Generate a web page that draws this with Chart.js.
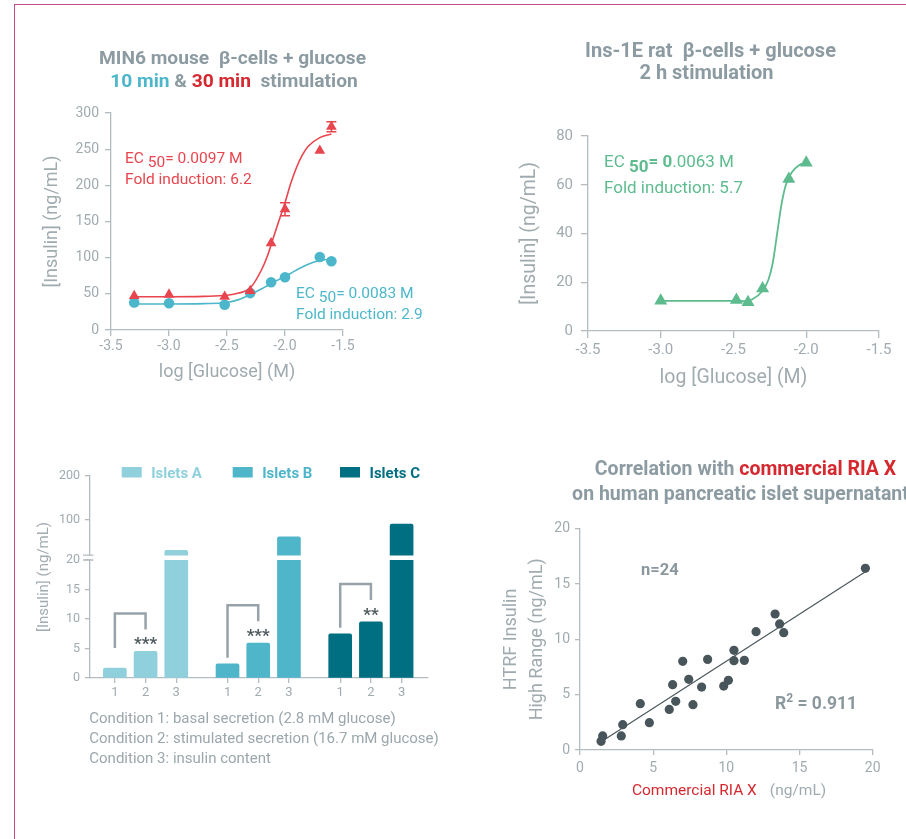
<!DOCTYPE html>
<html>
<head>
<meta charset="utf-8">
<title>Insulin assay panels</title>
<script src="https://cdn.jsdelivr.net/npm/chart.js@4.4.1/dist/chart.umd.min.js"></script>
<style>
  html, body { margin: 0; padding: 0; background: #ffffff; }
  #page { position: relative; width: 906px; height: 839px; overflow: hidden; background: #ffffff; }
  #frame { position: absolute; left: 14px; top: 4px; width: 1000px; height: 1000px;
           border-left: 1.5px solid #c44a8f; border-top: 1.5px solid #c44a8f; }
  canvas { position: absolute; left: 0; top: 0; }
</style>
</head>
<body>
<div id="page">
  <div id="frame"></div>
  <canvas id="minChart" width="906" height="839"></canvas>
  <canvas id="insChart" width="906" height="839"></canvas>
  <canvas id="isletChart" width="906" height="839"></canvas>
  <canvas id="corrChart" width="906" height="839"></canvas>
</div>
<script>
// ---------- MIN6 mouse beta-cells, 10 min and 30 min glucose stimulation ----------
const glucoseLogMIN6 = [-3.3, -3.0, -2.52, -2.3, -2.12, -2.0, -1.7, -1.6];
const insulin10min   = [38, 37, 35, 51, 66, 73, 101, 95];
const insulin30min   = [47, 49, 46, 54, 120, 167, 248, 281];
const sd30min        = [null, null, null, null, null, 9, null, 7];
const fitGlucoseMIN6 = [-3.3, -3.0, -2.7, -2.5, -2.4, -2.3, -2.2, -2.15, -2.1, -2.05, -2.0, -1.95, -1.9, -1.85, -1.8, -1.7, -1.6];
const fit30min       = [46, 46, 46.5, 48, 51, 58, 84, 103, 128, 152, 176, 203, 225, 242, 254, 266, 271];
const fit10min       = [36, 36, 36.5, 38, 42, 49, 57, 61.5, 66, 70, 74, 78.5, 83, 87, 91, 96, 98];
const glucoseTicks   = [-3.5, -3.0, -2.5, -2.0, -1.5];
const insulinTicksMIN6 = [0, 50, 100, 150, 200, 250, 300];

// ---------- Ins-1E rat beta-cells, 2 h glucose stimulation ----------
const glucoseLogINS1E = [-3.0, -2.48, -2.4, -2.3, -2.12, -2.0];
const insulin2h       = [12.4, 12.7, 11.8, 17.4, 62.4, 69];
const fitGlucoseINS1E = [-3.0, -2.6, -2.48, -2.42, -2.37, -2.3, -2.26, -2.23, -2.2, -2.17, -2.14, -2.1, -2.05, -2.0];
const fit2h           = [12.4, 12.4, 12.4, 12.2, 13, 16.5, 21, 28, 40, 52, 60, 65, 68, 69];
const insulinTicksINS1E = [0, 20, 40, 60, 80];

// ---------- Human islets, three secretion conditions ----------
const islets          = ['Islets A', 'Islets B', 'Islets C'];
const conditions      = ['1', '2', '3'];
const insulinIsletsA  = [1.7, 4.5, 31];
const insulinIsletsB  = [2.4, 5.9, 62];
const insulinIsletsC  = [7.5, 9.5, 91];
const significance    = ['***', '***', '**'];
const lowerTicks      = [0, 5, 10, 15, 20];
const upperTicks      = [100, 200];
const conditionNotes  = [
  'Condition 1: basal secretion (2.8 mM glucose)',
  'Condition 2: stimulated secretion (16.7 mM glucose)',
  'Condition 3: insulin content'
];

// ---------- HTRF vs commercial RIA correlation ----------
const riaX  = [1.44, 1.55, 2.82, 2.92, 4.12, 4.74, 6.10, 6.33, 6.54, 7.02, 7.43, 7.72,
               8.31, 8.72, 9.82, 10.14, 10.52, 10.52, 11.23, 12.03, 13.33, 13.64, 13.92, 19.50];
const htrfY = [0.78, 1.27, 1.27, 2.29, 4.19, 2.47, 3.67, 5.90, 4.40, 8.01, 6.39, 4.10,
               5.69, 8.19, 5.78, 6.30, 9.01, 8.07, 8.10, 10.69, 12.29, 11.39, 10.60, 16.42];
const fitRiaX  = [1.5, 19.5];
const fitHtrfY = [0.8, 16.1];
const corrTicks = [0, 5, 10, 15, 20];

// ---------- shared styling ----------
const FONT = "Roboto, 'Liberation Sans', 'DejaVu Sans', sans-serif";
const AXIS = '#b3bdc1';
const TICK_TEXT = '#a0abb0';
const TITLE_GRAY = '#8c9ba2';
const RED = '#e8454e';
const RED_TITLE = '#d5282f';
const BLUE = '#4cb7ca';
const GREEN = '#5ebb8e';
const ISLET_COLORS = ['#8fd0dc', '#4fb5c9', '#006f82'];

Chart.defaults.font.family = FONT;
Chart.defaults.color = TICK_TEXT;

const f = (size, weight) => `${weight || 'normal'} ${size}px ${FONT}`;
const pts = (xs, ys) => xs.map((x, i) => ({ x: x, y: ys[i] }));
const fixTicks = values => scale => { scale.ticks = values.map(v => ({ value: v })); };
const fixSize = size => scale => { if (scale.isHorizontal()) scale.height = size; else scale.width = size; };

function drawRuns(ctx, x, y, runs, align) {
  ctx.save();
  ctx.textBaseline = 'alphabetic';
  ctx.textAlign = 'left';
  let total = 0;
  runs.forEach(r => { ctx.font = r.font; r.w = ctx.measureText(r.text).width; total += r.w + (r.gap || 0); });
  let cx = align === 'center' ? x - total / 2 : x;
  runs.forEach(r => {
    cx += (r.gap || 0);
    ctx.font = r.font; ctx.fillStyle = r.color;
    ctx.fillText(r.text, cx, y + (r.dy || 0));
    cx += r.w;
  });
  ctx.restore();
}

function axisStyle(tickLen, fontSize, pad) {
  return {
    grid: { drawOnChartArea: false, tickLength: tickLen, color: AXIS, lineWidth: 1.3, offset: false },
    border: { color: AXIS, width: 1.3 },
    ticks: { font: { size: fontSize }, color: TICK_TEXT, padding: pad, autoSkip: false, maxRotation: 0 }
  };
}

const baseOptions = padding => ({
  responsive: false, animation: false, devicePixelRatio: 1,
  layout: { padding: padding },
  plugins: { legend: { display: false }, tooltip: { enabled: false } },
  events: []
});

// ===== Panel 1: MIN6 =====
const minText = {
  id: 'minText',
  beforeDatasetsDraw(chart) {
    const { ctx, scales: { x, y } } = chart;
    ctx.save();
    ctx.strokeStyle = RED; ctx.lineWidth = 1.5;
    sd30min.forEach((sd, i) => {
      if (sd == null) return;
      const px = x.getPixelForValue(glucoseLogMIN6[i]);
      const top = y.getPixelForValue(insulin30min[i] + sd);
      const bot = y.getPixelForValue(insulin30min[i] - sd);
      ctx.beginPath();
      ctx.moveTo(px, top); ctx.lineTo(px, bot);
      ctx.moveTo(px - 5, top); ctx.lineTo(px + 5, top);
      ctx.moveTo(px - 5, bot); ctx.lineTo(px + 5, bot);
      ctx.stroke();
    });
    ctx.restore();
  },
  afterDraw(chart) {
    const ctx = chart.ctx;
    drawRuns(ctx, 232.5, 63.5, [{ text: 'MIN6 mouse  β-cells + glucose', color: TITLE_GRAY, font: f(19.2, 'bold') }], 'center');
    drawRuns(ctx, 234, 87, [
      { text: '10 min', color: BLUE, font: f(19.2, 'bold') },
      { text: ' & ', color: TITLE_GRAY, font: f(19.2, 'bold') },
      { text: '30 min', color: RED_TITLE, font: f(19.2, 'bold') },
      { text: '  stimulation', color: TITLE_GRAY, font: f(19.2, 'bold') }
    ], 'center');
    const ec = (x, y, color, ecText, fold) => {
      drawRuns(ctx, x, y, [
        { text: 'EC ', color: color, font: f(15.5) },
        { text: '50', color: color, font: f(15.5), dy: 4 },
        { text: ecText, color: color, font: f(15.5) }
      ]);
      drawRuns(ctx, x, y + 21, [{ text: fold, color: color, font: f(15.5) }]);
    };
    ec(125, 163, RED, '= 0.0097 M', 'Fold induction: 6.2');
    ec(296, 298, BLUE, '= 0.0083 M', 'Fold induction: 2.9');
  }
};

new Chart(document.getElementById('minChart'), {
  type: 'scatter',
  data: {
    datasets: [
      { label: '30 min', data: pts(glucoseLogMIN6, insulin30min), pointStyle: 'triangle', pointRadius: 6.2,
        backgroundColor: RED, borderColor: RED, borderWidth: 0 },
      { label: '30 min fit', data: pts(fitGlucoseMIN6, fit30min), showLine: true, pointRadius: 0,
        borderColor: RED, borderWidth: 1.6, cubicInterpolationMode: 'monotone' },
      { label: '10 min', data: pts(glucoseLogMIN6, insulin10min), pointStyle: 'circle', pointRadius: 5.3,
        backgroundColor: BLUE, borderColor: BLUE, borderWidth: 0 },
      { label: '10 min fit', data: pts(fitGlucoseMIN6, fit10min), showLine: true, pointRadius: 0,
        borderColor: BLUE, borderWidth: 1.6, cubicInterpolationMode: 'monotone' }
    ]
  },
  options: Object.assign(baseOptions({ left: 40, top: 113, right: 563, bottom: 454 }), {
    scales: {
      x: Object.assign(axisStyle(6, 14, 2), {
        type: 'linear', min: -3.5, max: -1.5,
        afterBuildTicks: fixTicks(glucoseTicks), afterFit: fixSize(55),
        title: { display: true, text: 'log [Glucose] (M)', font: { size: 18 }, color: TICK_TEXT, padding: { top: 0, bottom: 1.5 } }
      }),
      y: Object.assign(axisStyle(6, 14, 6), {
        type: 'linear', min: 0, max: 300,
        afterBuildTicks: fixTicks(insulinTicksMIN6), afterFit: fixSize(71),
        title: { display: true, text: '[Insulin] (ng/mL)', font: { size: 18 }, color: TICK_TEXT, padding: { top: 2, bottom: 0 } }
      })
    }
  }),
  plugins: [minText]
});
Chart.getChart('minChart').options.scales.x.ticks.callback = v => Number(v).toFixed(1);
Chart.getChart('minChart').update();

// ===== Panel 2: Ins-1E =====
const insText = {
  id: 'insText',
  afterDraw(chart) {
    const ctx = chart.ctx;
    drawRuns(ctx, 710.5, 56.7, [{ text: 'Ins-1E rat  β-cells + glucose', color: TITLE_GRAY, font: f(20, 'bold') }], 'center');
    drawRuns(ctx, 706.5, 79.3, [{ text: '2 h stimulation', color: TITLE_GRAY, font: f(20, 'bold') }], 'center');
    drawRuns(ctx, 604, 166.5, [
      { text: 'EC ', color: GREEN, font: f(17) },
      { text: '50', color: GREEN, font: f(17, 'bold'), dy: 5 },
      { text: '= 0', color: GREEN, font: f(17, 'bold') },
      { text: '.0063 M', color: GREEN, font: f(17) }
    ]);
    drawRuns(ctx, 604, 193, [{ text: 'Fold induction: 5.7', color: GREEN, font: f(17) }]);
  }
};

new Chart(document.getElementById('insChart'), {
  type: 'scatter',
  data: {
    datasets: [
      { label: '2 h', data: pts(glucoseLogINS1E, insulin2h), pointStyle: 'triangle', pointRadius: 7.5,
        backgroundColor: GREEN, borderColor: GREEN, borderWidth: 0 },
      { label: '2 h fit', data: pts(fitGlucoseINS1E, fit2h), showLine: true, pointRadius: 0,
        borderColor: GREEN, borderWidth: 1.8, cubicInterpolationMode: 'monotone' }
    ]
  },
  options: Object.assign(baseOptions({ left: 515, top: 136, right: 27, bottom: 448 }), {
    scales: {
      x: Object.assign(axisStyle(7, 15, 3), {
        type: 'linear', min: -3.5, max: -1.5,
        afterBuildTicks: fixTicks(glucoseTicks), afterFit: fixSize(60),
        title: { display: true, text: 'log [Glucose] (M)', font: { size: 19.5 }, color: TICK_TEXT, padding: { top: 0, bottom: 1.3 } }
      }),
      y: Object.assign(axisStyle(7, 15, 8), {
        type: 'linear', min: 0, max: 80,
        afterBuildTicks: fixTicks(insulinTicksINS1E), afterFit: fixSize(73),
        title: { display: true, text: '[Insulin] (ng/mL)', font: { size: 19.5 }, color: TICK_TEXT, padding: { top: 3.3, bottom: 0 } }
      })
    }
  }),
  plugins: [insText]
});
Chart.getChart('insChart').options.scales.x.ticks.callback = v => Number(v).toFixed(1);
Chart.getChart('insChart').update();

// ===== Panel 3: human islets with a broken insulin axis =====
const AXIS_BREAK = 20;
const GROUP_STEP = 3.67;
const barItems = [];
[insulinIsletsA, insulinIsletsB, insulinIsletsC].forEach((vals, g) => {
  vals.forEach((v, c) => barItems.push({ pos: g * GROUP_STEP + c, v: v, color: ISLET_COLORS[g] }));
});
const barPositions = barItems.map(b => b.pos);
const splitBars = barItems.filter(b => b.v > AXIS_BREAK);

const isletText = {
  id: 'isletText',
  afterDraw(chart) {
    const { ctx, chartArea, scales: { x, yLow, yHigh } } = chart;
    // axis break
    const axisX = yLow.right;
    const lowTop = yLow.top;
    const highBase = yHigh.getPixelForValue(AXIS_BREAK);
    ctx.save();
    ctx.fillStyle = '#ffffff';
    ctx.fillRect(axisX - 2, highBase + 0.8, 4, lowTop - highBase - 1.6);
    ctx.strokeStyle = AXIS; ctx.lineWidth = 1.3;
    ctx.beginPath();
    ctx.moveTo(axisX - 7, highBase); ctx.lineTo(axisX + 3.5, highBase);
    ctx.moveTo(axisX - 7, lowTop); ctx.lineTo(axisX + 3.5, lowTop);
    ctx.stroke();
    // significance brackets
    const legGap = [20, 6, 6];
    const groups = [insulinIsletsA, insulinIsletsB, insulinIsletsC];
    ctx.strokeStyle = '#97a3a9'; ctx.lineWidth = 2.5; ctx.lineJoin = 'miter';
    groups.forEach((vals, g) => {
      const x1 = x.getPixelForValue(g * GROUP_STEP);
      const x2 = x.getPixelForValue(g * GROUP_STEP + 1);
      const t1 = yLow.getPixelForValue(vals[0]);
      const t2 = yLow.getPixelForValue(vals[1]);
      const top = t2 - 38;
      ctx.beginPath();
      ctx.moveTo(x1, t1 - legGap[g]); ctx.lineTo(x1, top); ctx.lineTo(x2, top); ctx.lineTo(x2, t2 - 22);
      ctx.stroke();
      drawRuns(ctx, x2, t2 - 2, [{ text: significance[g], color: '#4f5a5f', font: f(17, 'bold') }], 'center');
    });
    // legend
    const legendX = [31.7, 142.7, 250];
    islets.forEach((name, g) => {
      const bx = chartArea.left + legendX[g];
      ctx.fillStyle = ISLET_COLORS[g];
      ctx.fillRect(bx, 467, 20, 10.5);
      drawRuns(ctx, bx + 29.5, 477.5, [{ text: name, color: ISLET_COLORS[g], font: f(15, 'bold') }]);
    });
    // y title
    ctx.save();
    ctx.translate(44, (yHigh.top + yLow.bottom) / 2);
    ctx.rotate(-Math.PI / 2);
    ctx.font = f(15); ctx.fillStyle = TICK_TEXT; ctx.textAlign = 'center'; ctx.textBaseline = 'middle';
    ctx.fillText('[Insulin] (ng/mL)', 0, 0);
    ctx.restore();
    // condition notes
    conditionNotes.forEach((t, i) => {
      drawRuns(ctx, 89.3, 722.7 + i * 20.3, [{ text: t, color: '#9ba7ac', font: f(15) }]);
    });
    ctx.restore();
  }
};

new Chart(document.getElementById('isletChart'), {
  type: 'bar',
  data: {
    datasets: [
      { label: 'lower', yAxisID: 'yLow', grouped: false, barThickness: 23,
        data: barItems.map(b => ({ x: b.pos, y: Math.min(b.v, AXIS_BREAK) })),
        backgroundColor: barItems.map(b => b.color),
        borderRadius: barItems.map(b => b.v > AXIS_BREAK ? 0 : { topLeft: 2, topRight: 2, bottomLeft: 0, bottomRight: 0 }) },
      { label: 'upper', yAxisID: 'yHigh', grouped: false, barThickness: 23,
        data: splitBars.map(b => ({ x: b.pos, y: [AXIS_BREAK, b.v] })),
        backgroundColor: splitBars.map(b => b.color),
        borderRadius: { topLeft: 2, topRight: 2, bottomLeft: 0, bottomRight: 0 } }
    ]
  },
  options: Object.assign(baseOptions({ left: 33, top: 476, right: 478, bottom: 136 }), {
    scales: {
      x: Object.assign(axisStyle(5, 13, 1.9), {
        type: 'linear', min: -0.81, max: 10.2, offset: false,
        afterBuildTicks: fixTicks(barPositions), afterFit: fixSize(25)
      }),
      yLow: Object.assign(axisStyle(5, 12.5, 5), {
        type: 'linear', position: 'left', stack: 'insulin', stackWeight: 118, min: 0, max: 20,
        afterBuildTicks: fixTicks(lowerTicks), afterFit: fixSize(57)
      }),
      yHigh: Object.assign(axisStyle(5, 12.5, 5), {
        type: 'linear', position: 'left', stack: 'insulin', stackWeight: 84, min: 9.1, max: 200,
        afterBuildTicks: fixTicks(upperTicks), afterFit: fixSize(57)
      })
    }
  }),
  plugins: [isletText]
});
Chart.getChart('isletChart').options.scales.x.ticks.callback = (v, i) => conditions[i % conditions.length];
Chart.getChart('isletChart').update();

// ===== Panel 4: correlation =====
const corrText = {
  id: 'corrText',
  afterDraw(chart) {
    const ctx = chart.ctx;
    drawRuns(ctx, 745.5, 475, [
      { text: 'Correlation with ', color: TITLE_GRAY, font: f(19.5, 'bold') },
      { text: 'commercial RIA X', color: RED_TITLE, font: f(19.5, 'bold') }
    ], 'center');
    drawRuns(ctx, 745.5, 500, [{ text: 'on human pancreatic islet supernatants', color: TITLE_GRAY, font: f(19.5, 'bold') }], 'center');
    drawRuns(ctx, 729, 795, [
      { text: 'Commercial RIA X', color: RED_TITLE, font: f(15.5) },
      { text: '(ng/mL)', color: TICK_TEXT, font: f(15.5), gap: 13 }
    ], 'center');
    drawRuns(ctx, 641, 575, [{ text: 'n=24', color: '#8a979d', font: f(16.5, 'bold') }]);
    drawRuns(ctx, 775, 709.3, [
      { text: 'R', color: '#8a979d', font: f(17.5, 'bold') },
      { text: '2', color: '#8a979d', font: f(12, 'bold'), dy: -7 },
      { text: ' = 0.911', color: '#8a979d', font: f(17.5, 'bold') }
    ]);
  }
};

new Chart(document.getElementById('corrChart'), {
  type: 'scatter',
  data: {
    datasets: [
      { label: 'samples', data: pts(riaX, htrfY), pointRadius: 4.6, backgroundColor: '#48555a', borderWidth: 0 },
      { label: 'regression', data: pts(fitRiaX, fitHtrfY), showLine: true, pointRadius: 0,
        borderColor: '#4b575c', borderWidth: 1.2 }
    ]
  },
  options: Object.assign(baseOptions({ left: 495, top: 528.7, right: 33.3, bottom: 39 }), {
    scales: {
      x: Object.assign(axisStyle(5, 14, 4.6), {
        type: 'linear', min: 0, max: 20,
        afterBuildTicks: fixTicks(corrTicks), afterFit: fixSize(50)
      }),
      y: Object.assign(axisStyle(5, 14, 5), {
        type: 'linear', min: 0, max: 20,
        afterBuildTicks: fixTicks(corrTicks), afterFit: fixSize(85),
        title: { display: true, text: ['HTRF Insulin', 'High Range (ng/mL)'], font: { size: 18, lineHeight: '26px' },
                 color: TICK_TEXT, padding: { top: 3, bottom: 0 } }
      })
    }
  }),
  plugins: [corrText]
});
</script>
</body>
</html>
